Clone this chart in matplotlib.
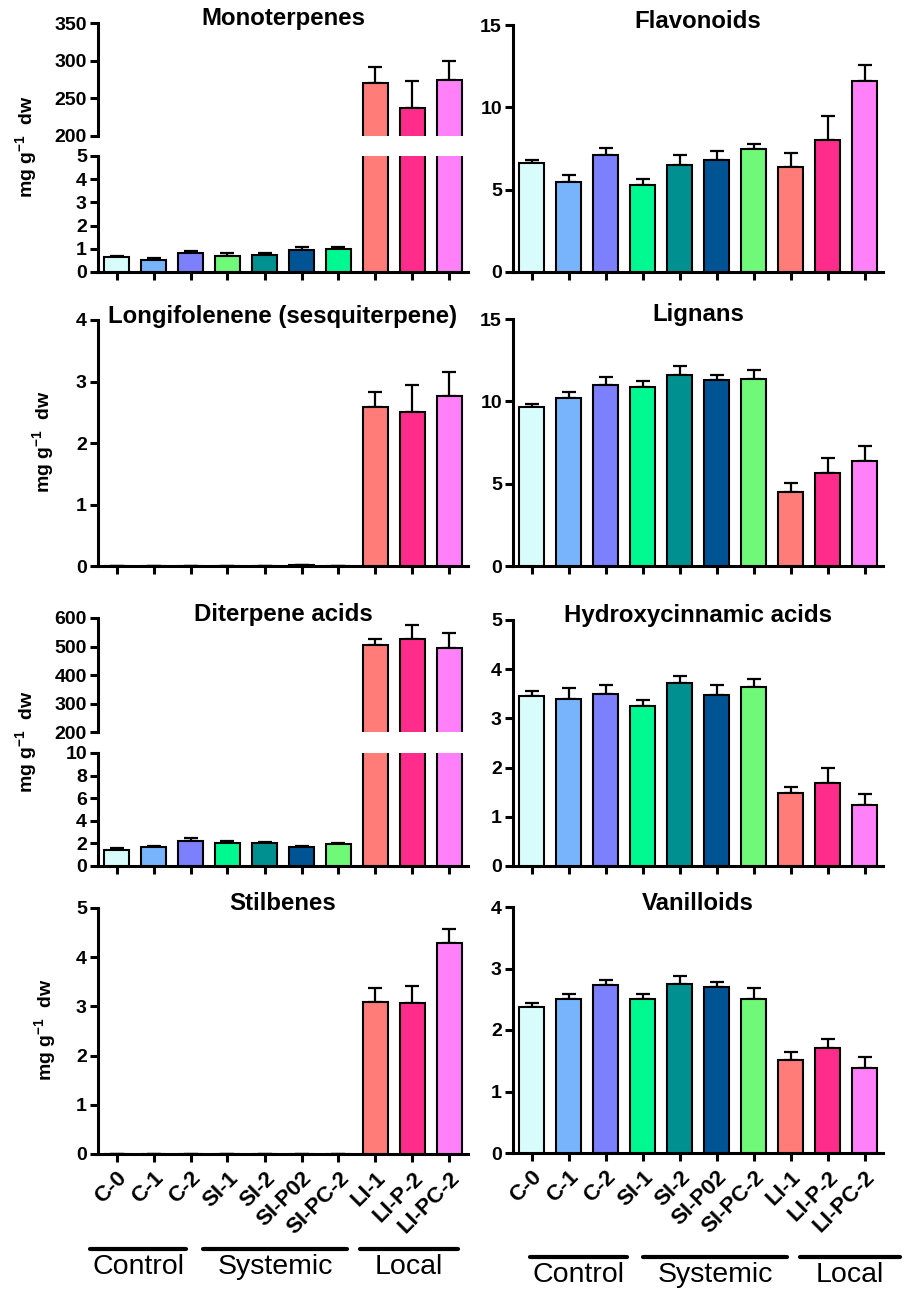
import matplotlib
matplotlib.use("Agg")
import matplotlib.pyplot as plt
from matplotlib.lines import Line2D
import numpy as np

# ── Figure size in pixels (dpi 100) ───────────────────────────────────────────
W, H = 902, 1289

# ── Data ──────────────────────────────────────────────────────────────────────
GROUPS = ["C-0", "C-1", "C-2", "SI-1", "SI-2", "SI-P02", "SI-PC-2",
          "LI-1", "LI-P-2", "LI-PC-2"]

mono_vals = [0.66, 0.51, 0.80, 0.69, 0.74, 0.93, 0.97, 270, 237, 275]
mono_errs = [0.05, 0.09, 0.10, 0.11, 0.09, 0.13, 0.09, 21, 36, 25]

flav_vals = [6.62, 5.45, 7.10, 5.27, 6.52, 6.80, 7.49, 6.38, 8.00, 11.57]
flav_errs = [0.18, 0.42, 0.45, 0.38, 0.61, 0.57, 0.28, 0.87, 1.45, 1.01]

longi_vals = [0, 0, 0, 0, 0, 0.01, 0, 2.58, 2.51, 2.76]
longi_errs = [0, 0, 0, 0, 0, 0.01, 0, 0.25, 0.43, 0.40]

lign_vals = [9.65, 10.20, 11.00, 10.85, 11.59, 11.29, 11.35, 4.48, 5.64, 6.35]
lign_errs = [0.20, 0.36, 0.47, 0.36, 0.55, 0.33, 0.57, 0.55, 0.89, 0.93]

diter_vals = [1.43, 1.69, 2.17, 2.06, 2.00, 1.71, 1.94, 506, 527, 495]
diter_errs = [0.12, 0.12, 0.29, 0.14, 0.14, 0.09, 0.12, 22, 50, 52]

hydro_vals = [3.46, 3.39, 3.50, 3.26, 3.71, 3.47, 3.64, 1.48, 1.69, 1.23]
hydro_errs = [0.10, 0.22, 0.18, 0.11, 0.15, 0.20, 0.17, 0.13, 0.30, 0.23]

stil_vals = [0, 0, 0, 0, 0, 0, 0, 3.09, 3.06, 4.28]
stil_errs = [0, 0, 0, 0, 0, 0, 0, 0.28, 0.35, 0.30]

vani_vals = [2.38, 2.51, 2.73, 2.50, 2.74, 2.70, 2.50, 1.52, 1.70, 1.39]
vani_errs = [0.06, 0.08, 0.09, 0.09, 0.13, 0.08, 0.19, 0.13, 0.15, 0.17]

# ── Palette ───────────────────────────────────────────────────────────────────
COLORS = ["#D8FCFC", "#78B4FC", "#7C80FC", "#00F890", "#009090",
          "#005494", "#70F878", "#FF7C78", "#FF2C8C", "#FF80F8"]
# monoterpene panel swaps the two greens
MONO_COLORS = COLORS[:3] + ["#70F878"] + COLORS[4:6] + ["#00F890"] + COLORS[7:]

plt.rcParams.update({
    "font.family": "Liberation Sans",
    "font.weight": "bold",
    "mathtext.fontset": "custom",
    "mathtext.rm": "Liberation Sans:bold",
    "mathtext.it": "Liberation Sans:bold",
    "mathtext.bf": "Liberation Sans:bold",
    "figure.facecolor": "white",
    "axes.facecolor": "none",
})

SPINE_LW = 2.2
TICK_FS = 14
TITLE_FS = 17.3
X = np.arange(len(GROUPS))


def box(l, t, r, b):
    return [l / W, 1 - b / H, (r - l) / W, (b - t) / H]


def style(ax, bottom=True):
    for s in ["top", "right"]:
        ax.spines[s].set_visible(False)
    ax.spines["left"].set_linewidth(SPINE_LW)
    ax.spines["bottom"].set_linewidth(SPINE_LW)
    ax.spines["bottom"].set_visible(bottom)
    ax.tick_params(axis="both", direction="out", length=6, width=SPINE_LW,
                   labelsize=TICK_FS, pad=2)
    ax.set_xlim(-0.5, 9.5)
    if bottom:
        ax.set_xticks(X)
        ax.set_xticklabels([])
    else:
        ax.set_xticks([])


def bars(ax, vals, errs, colors):
    ax.errorbar(X, vals, yerr=[np.zeros(len(vals)), errs], fmt="none",
                ecolor="black", elinewidth=1.6, capsize=5, capthick=1.6,
                zorder=2)
    ax.bar(X, vals, width=0.68, color=colors, edgecolor="black",
           linewidth=1.5, zorder=3)


def panel(rect, vals, errs, ylim, yticks, title, colors=COLORS):
    ax = fig.add_axes(box(*rect))
    bars(ax, vals, errs, colors)
    style(ax)
    ax.set_ylim(*ylim)
    ax.set_yticks(yticks)
    fig.text((rect[0] + rect[2]) / 2 / W, 1 - (rect[1] - 4) / H, title,
             ha="center", va="center", fontsize=TITLE_FS, fontweight="bold")
    return ax


def broken(rect_top, rect_bot, vals, errs, ylim_top, yt_top, ylim_bot, yt_bot,
           title, colors=COLORS):
    at = fig.add_axes(box(*rect_top))
    ab = fig.add_axes(box(*rect_bot))
    for a in (at, ab):
        bars(a, vals, errs, colors)
    style(at, bottom=False)
    style(ab)
    at.set_ylim(*ylim_top)
    at.set_yticks(yt_top)
    ab.set_ylim(*ylim_bot)
    ab.set_yticks(yt_bot)
    fig.text((rect_top[0] + rect_top[2]) / 2 / W, 1 - (rect_top[1] - 4) / H,
             title, ha="center", va="center", fontsize=TITLE_FS,
             fontweight="bold")
    return at, ab


fig = plt.figure(figsize=(W / 100, H / 100), dpi=100)

LX0, LX1 = 98, 468
RX0, RX1 = 513, 883

# Row 1
broken((LX0, 23, LX1, 136), (LX0, 156, LX1, 272), mono_vals, mono_errs,
       (200, 350), [200, 250, 300, 350], (0, 5), [0, 1, 2, 3, 4, 5],
       "Monoterpenes", MONO_COLORS)
panel((RX0, 25, RX1, 272), flav_vals, flav_errs, (0, 15), [0, 5, 10, 15],
      "Flavonoids")

# Row 2
panel((LX0, 320, LX1, 566), longi_vals, longi_errs, (0, 4), [0, 1, 2, 3, 4],
      "Longifolenene (sesquiterpene)")
panel((RX0, 319, RX1, 566), lign_vals, lign_errs, (0, 15), [0, 5, 10, 15],
      "Lignans")

# Row 3
broken((LX0, 618, LX1, 732), (LX0, 753, LX1, 866), diter_vals, diter_errs,
       (200, 600), [200, 300, 400, 500, 600], (0, 10), [0, 2, 4, 6, 8, 10],
       "Diterpene acids")
panel((RX0, 620, RX1, 866), hydro_vals, hydro_errs, (0, 5), [0, 1, 2, 3, 4, 5],
      "Hydroxycinnamic acids")

# Row 4
a_stil = panel((LX0, 908, LX1, 1154), stil_vals, stil_errs, (0, 5),
               [0, 1, 2, 3, 4, 5], "Stilbenes")
a_vani = panel((RX0, 907, RX1, 1153), vani_vals, vani_errs, (0, 4),
               [0, 1, 2, 3, 4], "Vanilloids")
for a in (a_stil, a_vani):
    a.set_xticklabels(GROUPS, rotation=45, ha="right", va="top",
                      rotation_mode="anchor", fontsize=16)
    a.tick_params(axis="x", pad=4)

# y labels
YLAB = r"mg g$^{-1}$  dw"
for xc, yc in [(26, 147), (43, 442), (26, 742), (45, 1030)]:
    fig.text(xc / W, 1 - yc / H, YLAB, rotation=90, ha="center", va="center",
             fontsize=14, fontweight="bold")

# group brackets under the x labels
brackets = [
    (1249, 1267, [(90, 186, "Control"), (203, 347, "Systemic"), (360, 458, "Local")]),
    (1257, 1275, [(530, 627, "Control"), (643, 787, "Systemic"), (800, 900, "Local")]),
]
for ly, ty, items in brackets:
    for x0, x1, name in items:
        fig.add_artist(Line2D([x0 / W, x1 / W], [1 - ly / H, 1 - ly / H],
                              color="black", lw=3, solid_capstyle="round"))
        fig.text((x0 + x1) / 2 / W, 1 - ty / H, name, ha="center", va="center",
                 fontsize=20.5, fontweight="normal")

fig.savefig("out.png", dpi=100)
